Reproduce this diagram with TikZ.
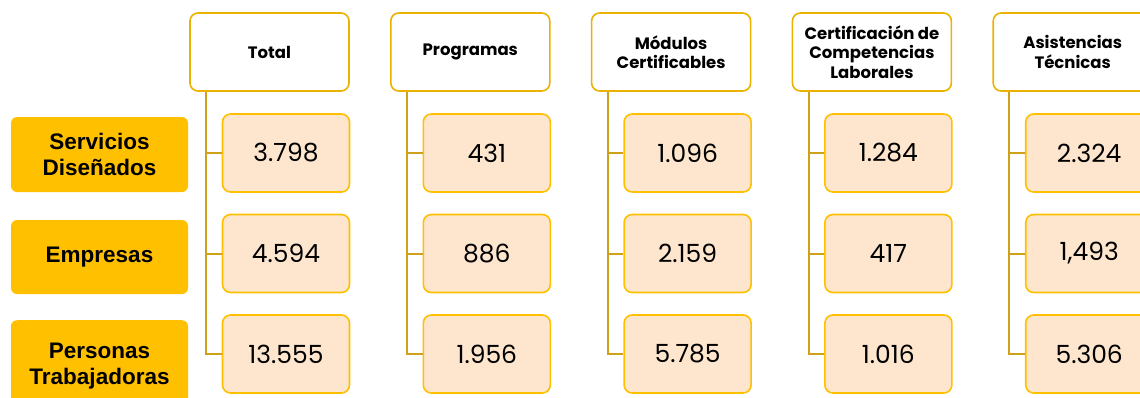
\documentclass[tikz,border=0pt]{standalone}
\usepackage{fontspec}
\setmainfont{Liberation Sans}
\newfontfamily\gfont{Poppins}
\definecolor{gold}{HTML}{FFC000}
\definecolor{hdrline}{HTML}{EBB200}
\definecolor{connline}{HTML}{CFA01A}
\definecolor{peach}{HTML}{FDE6CD}
\begin{document}
\begin{tikzpicture}[x=1pt,y=-1pt,
  hdr/.style={draw=hdrline,line width=1.6pt,fill=white,rounded corners=8pt,
    minimum width=159pt,minimum height=78pt,align=center,inner sep=0pt,
    font=\gfont\bfseries\fontsize{16.5}{19.5}\selectfont},
  val/.style={draw=gold,line width=1.6pt,fill=peach,rounded corners=8pt,
    minimum width=127pt,minimum height=78pt,inner sep=0pt,
    font=\gfont\fontsize{25}{30}\selectfont},
  lab/.style={fill=gold,rounded corners=6pt,minimum width=177pt,align=center,inner sep=0pt,
    font=\bfseries\fontsize{22.5}{26.5}\selectfont},
  conn/.style={draw=connline,line width=2pt}]
\useasboundingbox (0,0) rectangle (1140,397);
\clip (0,0) rectangle (1140,397);
% left labels
\node[lab,minimum height=75pt] (l1) at (99.5,154.5) {Servicios\\Diseñados};
\node[lab,minimum height=74pt] (l2) at (99.5,257) {Empresas};
\node[lab,minimum height=92pt,anchor=north] (l3) at (99.5,320) {Personas\\Trabajadoras};
% columns
\foreach \i/\h/\a/\b/\c in {
  0/{Total}/{3.798}/{4.594}/{13.555},
  1/{Programas}/{431}/{886}/{1.956},
  2/{Módulos\\Certificables}/{1.096}/{2.159}/{5.785},
  3/{Certificación de\\Competencias\\Laborales}/{1.284}/{417}/{1.016},
  4/{Asistencias\\Técnicas}/{2.324}/{1,493}/{5.306}}{
  \pgfmathsetmacro{\L}{189+200.8*\i}
  \node[hdr] (h\i) at (\L+80.5,52) {\h};
  \node[val] (a\i) at (\L+97,153) {\a};
  \node[val] (b\i) at (\L+97,253.5) {\b};
  \node[val] (c\i) at (\L+97,354) {\c};
  \draw[conn] ([xshift=17pt]h\i.south west) |- (c\i.west);
  \draw[conn] ([xshift=17pt]h\i.south west) |- (a\i.west);
  \draw[conn] ([xshift=17pt]h\i.south west) |- (b\i.west);
}
\end{tikzpicture}
\end{document}
